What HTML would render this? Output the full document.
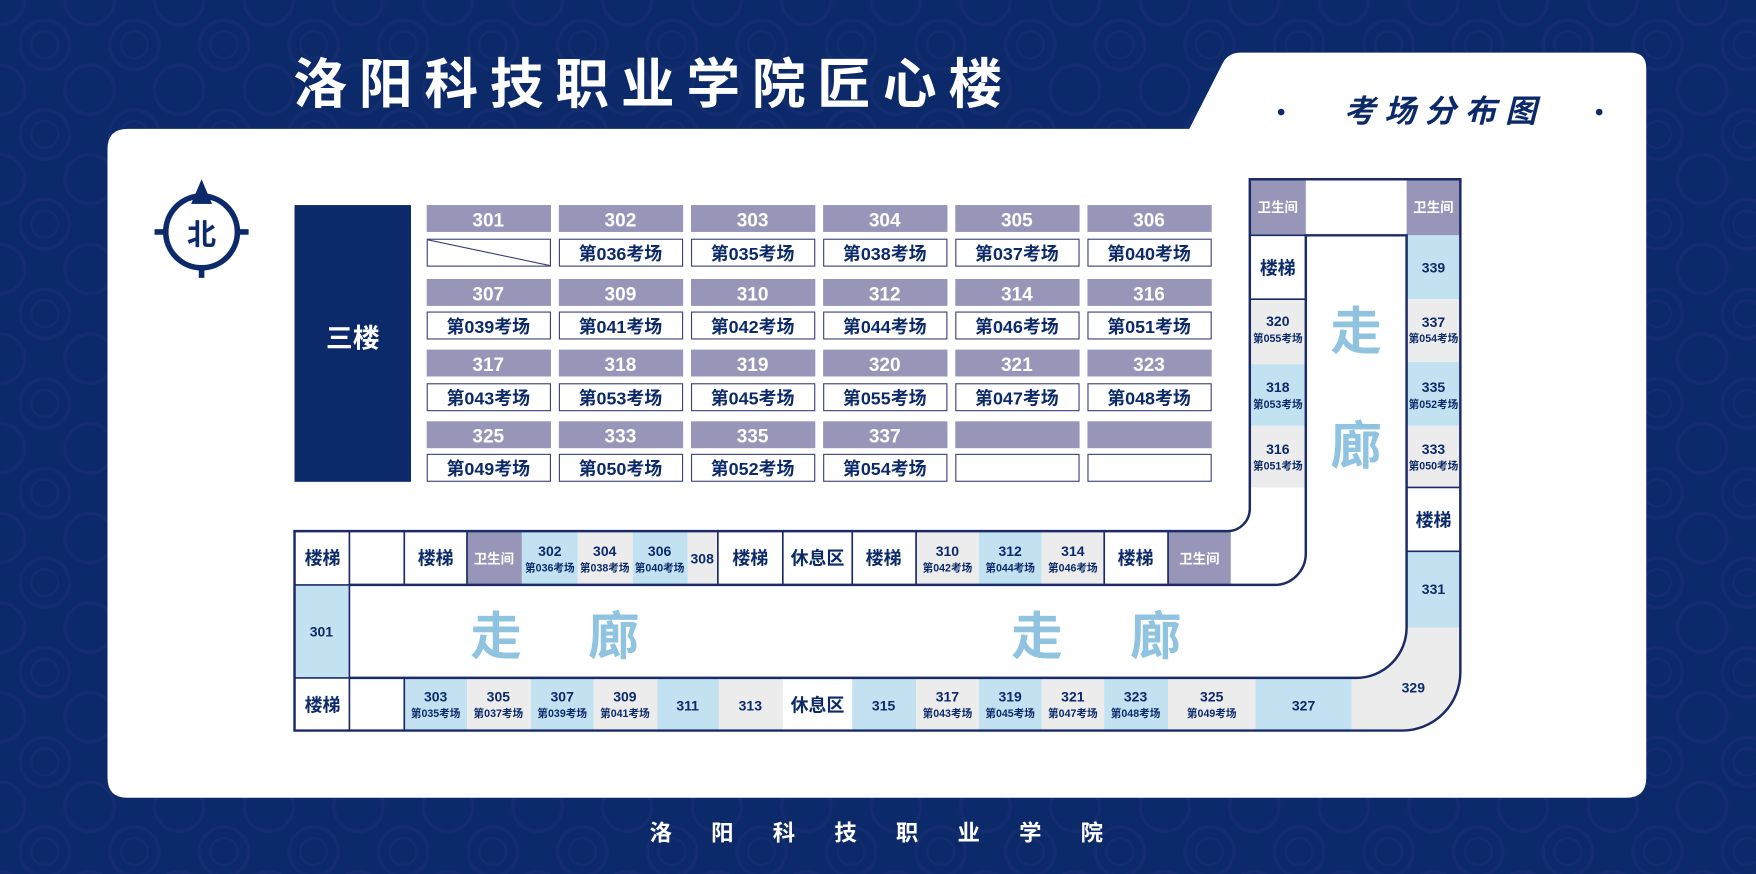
<!DOCTYPE html>
<html><head><meta charset="utf-8"><style>
html,body{margin:0;padding:0;background:#0c2a6a;}
svg{display:block;}
text{font-family:"Liberation Sans","Noto Sans CJK SC",sans-serif;font-weight:bold;}
</style></head><body>
<svg width="1756" height="874" viewBox="0 0 1568 780" preserveAspectRatio="none" xmlns="http://www.w3.org/2000/svg">
<defs>
<pattern id="rose" width="80" height="80" patternUnits="userSpaceOnUse">
<circle cx="40" cy="40" r="22" fill="none" stroke="#24307a" stroke-width="3"/>
<circle cx="40" cy="40" r="12" fill="none" stroke="#24307a" stroke-width="2"/>
<circle cx="0" cy="0" r="22" fill="none" stroke="#24307a" stroke-width="3"/>
<circle cx="80" cy="0" r="22" fill="none" stroke="#24307a" stroke-width="3"/>
<circle cx="0" cy="80" r="22" fill="none" stroke="#24307a" stroke-width="3"/>
<circle cx="80" cy="80" r="22" fill="none" stroke="#24307a" stroke-width="3"/>
</pattern>
</defs>
<rect width="1568" height="780" fill="#0c2a6a"/>
<rect width="1568" height="780" fill="url(#rose)" opacity="0.35"/>
<!-- panel -->
<path d="M114,115 L1062,115 L1092,56 Q1097,47 1108,47 L1456,47 Q1470,47 1470,61 L1470,694 Q1470,712 1452,712 L114,712 Q96,712 96,694 L96,133 Q96,115 114,115 Z" fill="#fff"/>
<text x="262" y="92" font-size="48" fill="#fff" letter-spacing="10.5">洛阳科技职业学院匠心楼</text>
<text x="1290" y="109" font-size="28" fill="#0c2a6a" text-anchor="middle" font-style="italic" letter-spacing="8">考场分布图</text>
<circle cx="1144" cy="100" r="3" fill="#0c2a6a"/><circle cx="1428" cy="100" r="3" fill="#0c2a6a"/>
<text x="800" y="750" font-size="20" fill="#fff" text-anchor="middle" font-weight="normal" letter-spacing="35">洛阳科技职业学院</text>
<!-- compass -->
<g stroke="#0c2a6a" stroke-width="5" fill="none">
<circle cx="180" cy="207" r="32"/>
<line x1="138" y1="207" x2="150" y2="207"/><line x1="210" y1="207" x2="222" y2="207"/>
<line x1="180" y1="237" x2="180" y2="248"/>
</g>
<polygon points="180,160 169,186 180,182 191,186" fill="#0c2a6a"/>
<rect x="168" y="182" width="24" height="6" fill="#fff"/>
<text x="180" y="218" font-size="26" fill="#0c2a6a" text-anchor="middle">北</text>
<!-- 三楼 -->
<rect x="263" y="183" width="104" height="247" fill="#0c2a6a"/>
<text x="315" y="310" font-size="24" fill="#fff" text-anchor="middle">三楼</text>
<!-- grid -->
<g font-size="16" text-anchor="middle">
<g fill="#9795b8">
<rect x="381" y="183" width="111" height="24"/><rect x="499" y="183" width="111" height="24"/><rect x="617" y="183" width="111" height="24"/><rect x="735" y="183" width="111" height="24"/><rect x="853" y="183" width="111" height="24"/><rect x="971" y="183" width="111" height="24"/>
<rect x="381" y="249" width="111" height="24"/><rect x="499" y="249" width="111" height="24"/><rect x="617" y="249" width="111" height="24"/><rect x="735" y="249" width="111" height="24"/><rect x="853" y="249" width="111" height="24"/><rect x="971" y="249" width="111" height="24"/>
<rect x="381" y="312" width="111" height="24"/><rect x="499" y="312" width="111" height="24"/><rect x="617" y="312" width="111" height="24"/><rect x="735" y="312" width="111" height="24"/><rect x="853" y="312" width="111" height="24"/><rect x="971" y="312" width="111" height="24"/>
<rect x="381" y="376" width="111" height="24"/><rect x="499" y="376" width="111" height="24"/><rect x="617" y="376" width="111" height="24"/><rect x="735" y="376" width="111" height="24"/><rect x="853" y="376" width="111" height="24"/><rect x="971" y="376" width="111" height="24"/>
</g>
<g fill="#fff" stroke="#3a3f7e" stroke-width="1">
<rect x="381.5" y="213.5" width="110" height="24"/><rect x="499.5" y="213.5" width="110" height="24"/><rect x="617.5" y="213.5" width="110" height="24"/><rect x="735.5" y="213.5" width="110" height="24"/><rect x="853.5" y="213.5" width="110" height="24"/><rect x="971.5" y="213.5" width="110" height="24"/>
<rect x="381.5" y="278.5" width="110" height="24"/><rect x="499.5" y="278.5" width="110" height="24"/><rect x="617.5" y="278.5" width="110" height="24"/><rect x="735.5" y="278.5" width="110" height="24"/><rect x="853.5" y="278.5" width="110" height="24"/><rect x="971.5" y="278.5" width="110" height="24"/>
<rect x="381.5" y="342.5" width="110" height="24"/><rect x="499.5" y="342.5" width="110" height="24"/><rect x="617.5" y="342.5" width="110" height="24"/><rect x="735.5" y="342.5" width="110" height="24"/><rect x="853.5" y="342.5" width="110" height="24"/><rect x="971.5" y="342.5" width="110" height="24"/>
<rect x="381.5" y="405.5" width="110" height="24"/><rect x="499.5" y="405.5" width="110" height="24"/><rect x="617.5" y="405.5" width="110" height="24"/><rect x="735.5" y="405.5" width="110" height="24"/><rect x="853.5" y="405.5" width="110" height="24"/><rect x="971.5" y="405.5" width="110" height="24"/>
<line x1="382" y1="214" x2="491" y2="237"/>
</g>
<g fill="#fff" font-weight="normal" font-size="17">
<text x="436" y="202">301</text><text x="554" y="202">302</text><text x="672" y="202">303</text><text x="790" y="202">304</text><text x="908" y="202">305</text><text x="1026" y="202">306</text>
<text x="436" y="268">307</text><text x="554" y="268">309</text><text x="672" y="268">310</text><text x="790" y="268">312</text><text x="908" y="268">314</text><text x="1026" y="268">316</text>
<text x="436" y="331">317</text><text x="554" y="331">318</text><text x="672" y="331">319</text><text x="790" y="331">320</text><text x="908" y="331">321</text><text x="1026" y="331">323</text>
<text x="436" y="395">325</text><text x="554" y="395">333</text><text x="672" y="395">335</text><text x="790" y="395">337</text>
</g>
<g fill="#0c2a6a">
<text x="554" y="232">第036考场</text><text x="672" y="232">第035考场</text><text x="790" y="232">第038考场</text><text x="908" y="232">第037考场</text><text x="1026" y="232">第040考场</text>
<text x="436" y="297">第039考场</text><text x="554" y="297">第041考场</text><text x="672" y="297">第042考场</text><text x="790" y="297">第044考场</text><text x="908" y="297">第046考场</text><text x="1026" y="297">第051考场</text>
<text x="436" y="361">第043考场</text><text x="554" y="361">第053考场</text><text x="672" y="361">第045考场</text><text x="790" y="361">第055考场</text><text x="908" y="361">第047考场</text><text x="1026" y="361">第048考场</text>
<text x="436" y="424">第049考场</text><text x="554" y="424">第050考场</text><text x="672" y="424">第052考场</text><text x="790" y="424">第054考场</text>
</g>
</g>
<!-- building cells -->
<g>
<rect x="417" y="474" width="49" height="48" fill="#9795b8"/>
<rect x="466" y="474" width="50" height="48" fill="#c2e2f2"/>
<rect x="516" y="474" width="49" height="48" fill="#ececec"/>
<rect x="565" y="474" width="49" height="48" fill="#c2e2f2"/>
<rect x="614" y="474" width="27" height="48" fill="#ececec"/>
<rect x="818" y="474" width="56" height="48" fill="#ececec"/>
<rect x="874" y="474" width="56" height="48" fill="#c2e2f2"/>
<rect x="930" y="474" width="56" height="48" fill="#ececec"/>
<rect x="1043" y="474" width="56" height="48" fill="#9795b8"/>
<rect x="263" y="522" width="49" height="83" fill="#c2e2f2"/>
<rect x="361" y="605" width="56" height="47" fill="#c2e2f2"/>
<rect x="417" y="605" width="57" height="47" fill="#ececec"/>
<rect x="474" y="605" width="56" height="47" fill="#c2e2f2"/>
<rect x="530" y="605" width="57" height="47" fill="#ececec"/>
<rect x="587" y="605" width="55" height="47" fill="#c2e2f2"/>
<rect x="642" y="605" width="57" height="47" fill="#ececec"/>
<rect x="761" y="605" width="57" height="47" fill="#c2e2f2"/>
<rect x="818" y="605" width="56" height="47" fill="#ececec"/>
<rect x="874" y="605" width="56" height="47" fill="#c2e2f2"/>
<rect x="930" y="605" width="56" height="47" fill="#ececec"/>
<rect x="986" y="605" width="57" height="47" fill="#c2e2f2"/>
<rect x="1043" y="605" width="78" height="47" fill="#ececec"/>
<rect x="1121" y="605" width="86" height="47" fill="#c2e2f2"/>
<path d="M1207,605 L1211,605 A45,45 0 0 0 1256,560 L1304,560 L1304,600 A52,52 0 0 1 1252,652 L1207,652 Z" fill="#ececec"/>
<rect x="1116" y="160" width="50" height="50" fill="#9795b8"/>
<rect x="1116" y="267" width="50" height="58" fill="#ececec"/>
<rect x="1116" y="325" width="50" height="55" fill="#c2e2f2"/>
<rect x="1116" y="380" width="50" height="55" fill="#ececec"/>
<rect x="1256" y="160" width="48" height="50" fill="#9795b8"/>
<rect x="1256" y="210" width="48" height="57" fill="#c2e2f2"/>
<rect x="1256" y="267" width="48" height="56" fill="#ececec"/>
<rect x="1256" y="323" width="48" height="57" fill="#c2e2f2"/>
<rect x="1256" y="380" width="48" height="55" fill="#ececec"/>
<rect x="1256" y="492" width="48" height="68" fill="#c2e2f2"/>
</g>
<g stroke="#1a2b66" stroke-width="1.5" fill="none">
<line x1="312" y1="474" x2="312" y2="652"/>
<line x1="361" y1="474" x2="361" y2="522"/><line x1="417" y1="474" x2="417" y2="522"/>
<line x1="641" y1="474" x2="641" y2="522"/><line x1="699" y1="474" x2="699" y2="522"/><line x1="761" y1="474" x2="761" y2="522"/><line x1="818" y1="474" x2="818" y2="522"/>
<line x1="986" y1="474" x2="986" y2="522"/><line x1="1043" y1="474" x2="1043" y2="522"/>
<line x1="263" y1="522" x2="312" y2="522"/><line x1="263" y1="605" x2="312" y2="605"/>
<line x1="361" y1="605" x2="361" y2="652"/>
<line x1="1116" y1="210" x2="1166" y2="210"/><line x1="1116" y1="267" x2="1166" y2="267"/>
<line x1="1256" y1="435" x2="1304" y2="435"/><line x1="1256" y1="492" x2="1304" y2="492"/>
</g>
<g stroke="#1a2b66" stroke-width="2.2" fill="none">
<path d="M263,474 L1096,474 A20,20 0 0 0 1116,454 L1116,160 L1304,160 L1304,600 A52,52 0 0 1 1252,652 L263,652 Z"/>
<path d="M312,522 L1138,522 A28,28 0 0 0 1166,494 L1166,210 L1256,210 L1256,560 A45,45 0 0 1 1211,605 L312,605"/>
</g>
<g fill="#0c2a6a" text-anchor="middle">
<g font-size="16">
<text x="288" y="504">楼梯</text><text x="389" y="504">楼梯</text><text x="670" y="504">楼梯</text><text x="730" y="504">休息区</text><text x="789" y="504">楼梯</text><text x="1014" y="504">楼梯</text>
<text x="288" y="635">楼梯</text><text x="730" y="635">休息区</text>
<text x="1141" y="245">楼梯</text><text x="1280" y="470">楼梯</text>
</g>
<g font-size="12" fill="#fff"><text x="441" y="503">卫生间</text><text x="1071" y="503">卫生间</text><text x="1141" y="189">卫生间</text><text x="1280" y="189">卫生间</text></g>
<g font-size="12.5" font-weight="normal">
<text x="491" y="496">302</text><text x="540" y="496">304</text><text x="589" y="496">306</text><text x="627" y="503">308</text>
<text x="846" y="496">310</text><text x="902" y="496">312</text><text x="958" y="496">314</text>
<text x="287" y="568">301</text>
<text x="389" y="626">303</text><text x="445" y="626">305</text><text x="502" y="626">307</text><text x="558" y="626">309</text><text x="614" y="634">311</text><text x="670" y="634">313</text><text x="789" y="634">315</text>
<text x="846" y="626">317</text><text x="902" y="626">319</text><text x="958" y="626">321</text><text x="1014" y="626">323</text><text x="1082" y="626">325</text><text x="1164" y="634">327</text><text x="1262" y="618">329</text>
<text x="1141" y="291">320</text><text x="1141" y="350">318</text><text x="1141" y="405">316</text>
<text x="1280" y="243">339</text><text x="1280" y="292">337</text><text x="1280" y="350">335</text><text x="1280" y="405">333</text><text x="1280" y="530">331</text>
</g>
<g font-size="9.5">
<text x="491" y="510">第036考场</text><text x="540" y="510">第038考场</text><text x="589" y="510">第040考场</text>
<text x="846" y="510">第042考场</text><text x="902" y="510">第044考场</text><text x="958" y="510">第046考场</text>
<text x="389" y="640">第035考场</text><text x="445" y="640">第037考场</text><text x="502" y="640">第039考场</text><text x="558" y="640">第041考场</text>
<text x="846" y="640">第043考场</text><text x="902" y="640">第045考场</text><text x="958" y="640">第047考场</text><text x="1014" y="640">第048考场</text><text x="1082" y="640">第049考场</text>
<text x="1141" y="305">第055考场</text><text x="1141" y="364">第053考场</text><text x="1141" y="419">第051考场</text>
<text x="1280" y="305">第054考场</text><text x="1280" y="364">第052考场</text><text x="1280" y="419">第050考场</text>
</g>
</g>
<g fill="#8fc3e0" font-size="46" font-weight="normal" text-anchor="middle">
<text x="443" y="584">走</text><text x="548" y="584">廊</text>
<text x="926" y="584">走</text><text x="1032" y="584">廊</text>
<text x="1211" y="312">走</text><text x="1211" y="414">廊</text>
</g>
</svg>
</body></html>
